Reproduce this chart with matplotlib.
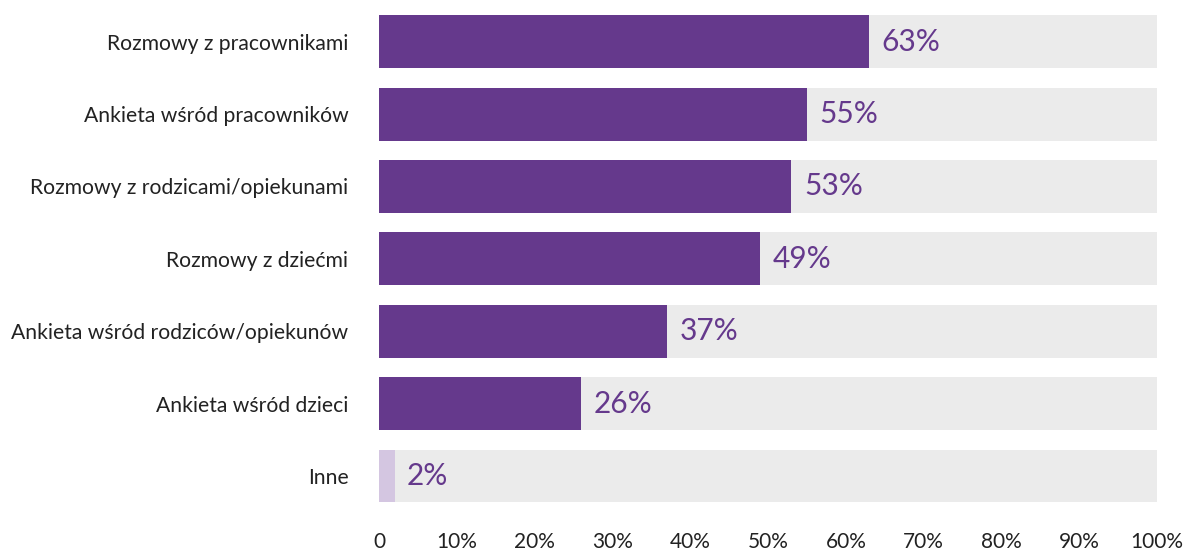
import matplotlib
matplotlib.use('Agg')
import matplotlib.pyplot as plt

plt.rcParams['font.family'] = ['Lato', 'DejaVu Sans']

kategorie = ['Rozmowy z pracownikami', 'Ankieta wśród pracowników',
             'Rozmowy z rodzicami/opiekunami', 'Rozmowy z dziećmi',
             'Ankieta wśród rodziców/opiekunów', 'Ankieta wśród dzieci', 'Inne']
wartosci = [63, 55, 53, 49, 37, 26, 2]
kolory = ['#65398c'] * 6 + ['#d4c6e1']
ticki = list(range(0, 101, 10))
etykiety_x = ['0'] + [f'{t}%' for t in ticki[1:]]

fig = plt.figure(figsize=(11.86, 5.52), dpi=100)
ax = fig.add_axes([0.3196, 0.072, 0.656, 0.918])

y = range(len(kategorie))
ax.barh(y, [100] * len(kategorie), height=0.73, color='#ebebeb')
ax.barh(y, wartosci, height=0.73, color=kolory)

for i, v in enumerate(wartosci):
    ax.annotate(f'{v}%', (v, i), xytext=(9, 0), textcoords='offset points',
                va='center', ha='left', fontsize=21.5, color='#65398c')

ax.set_xlim(0, 100)
ax.set_ylim(len(kategorie) - 0.5, -0.5)
ax.set_yticks(list(y))
ax.set_yticklabels(kategorie, fontsize=15.2, color='#222222')
ax.set_xticks(ticki)
ax.set_xticklabels(etykiety_x, fontsize=15, color='#222222')
ax.tick_params(axis='y', length=0, pad=22)
ax.tick_params(axis='x', length=0, pad=14)
for s in ax.spines.values():
    s.set_visible(False)

fig.savefig('out.png', dpi=100)
